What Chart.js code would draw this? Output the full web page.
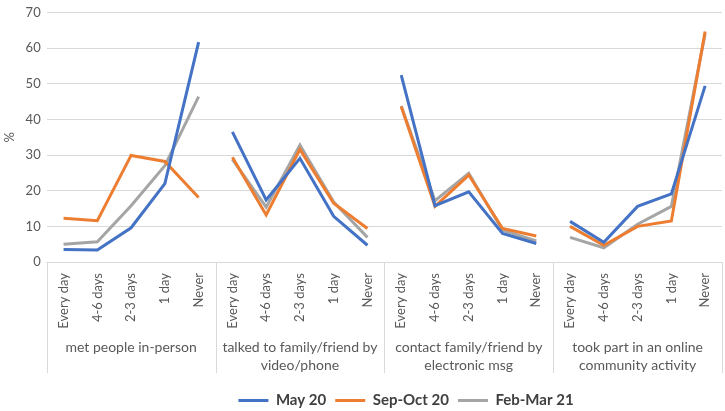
<!DOCTYPE html>
<html>
<head>
<meta charset="utf-8">
<script src="https://cdn.jsdelivr.net/npm/chart.js@4/dist/chart.umd.min.js"></script>
<style>
  html, body { margin: 0; padding: 0; background: #fff; }
  #wrap { width: 725px; height: 411px; }
</style>
</head>
<body>
<div id="wrap"><canvas id="chart"></canvas></div>
<script>
// Data
const frequencies = ['Every day', '4-6 days', '2-3 days', '1 day', 'Never'];
const groups = [
  ['met people in-person'],
  ['talked to family/friend by', 'video/phone'],
  ['contact family/friend by', 'electronic msg'],
  ['took part in an online', 'community activity']
];
const yTicks = [0, 10, 20, 30, 40, 50, 60, 70];

const may20 = [3.5, 3.4, 9.6, 22.0, 61.7, 36.5, 17.4, 29.1, 12.8, 4.7, 52.4, 15.8, 19.7, 8.0, 5.2, 11.4, 5.5, 15.6, 19.1, 49.4];
const sepOct20 = [12.3, 11.6, 29.9, 28.2, 18.1, 29.4, 13.2, 31.6, 16.5, 9.4, 43.6, 15.6, 24.4, 9.4, 7.3, 10.0, 4.7, 10.0, 11.5, 64.7];
const febMar21 = [5.0, 5.7, 15.8, 27.0, 46.4, 28.8, 15.4, 32.8, 16.8, 6.9, 43.8, 17.2, 24.9, 8.9, 5.9, 6.9, 4.0, 10.6, 15.6, 64.0];

const labels = [];
groups.forEach(() => frequencies.forEach(f => labels.push(f)));

const textColor = '#595959';
const gridColor = '#d9d9d9';
const FONT = 'Lato, "Open Sans", sans-serif';

// one line per group: hide the segment joining two groups
function makeSeries(label, data, color) {
  return {
    label,
    data,
    borderColor: color,
    backgroundColor: color,
    borderWidth: 3,
    pointRadius: 0,
    tension: 0,
    segment: {
      borderColor: ctx => (ctx.p0DataIndex % 5 === 4 ? 'transparent' : color)
    }
  };
}

// group labels + separators under the x axis
const groupAxis = {
  id: 'groupAxis',
  afterLayout(chart) {
    // legend sits a bit right of centre in the original
    chart.legend.left += 45;
    chart.legend.right += 45;
  },
  afterDraw(chart) {
    const ctx = chart.ctx;
    const x = chart.scales.x;
    const bottom = chart.chartArea.bottom;
    const step = (x.right - x.left) / labels.length;
    ctx.save();
    ctx.strokeStyle = gridColor;
    ctx.lineWidth = 1;
    for (let g = 0; g <= groups.length; g++) {
      const px = Math.round(x.left + g * 5 * step) + 0.5;
      ctx.beginPath();
      ctx.moveTo(px, bottom);
      ctx.lineTo(px, bottom + 111);
      ctx.stroke();
    }
    ctx.fillStyle = textColor;
    ctx.font = '14px ' + FONT;
    ctx.textAlign = 'center';
    ctx.textBaseline = 'middle';
    groups.forEach((lines, g) => {
      const cx = x.left + (g * 5 + 2.5) * step;
      lines.forEach((t, i) => ctx.fillText(t, cx, bottom + 85 + i * 18));
    });
    ctx.restore();
  }
};

new Chart(document.getElementById('chart'), {
  type: 'line',
  data: {
    labels,
    datasets: [
      makeSeries('May 20', may20, '#4472C4'),
      makeSeries('Sep-Oct 20', sepOct20, '#ED7D31'),
      makeSeries('Feb-Mar 21', febMar21, '#A5A5A5')
    ]
  },
  options: {
    responsive: true,
    maintainAspectRatio: false,
    animation: false,
    layout: { padding: { top: -9, right: 3, left: 0, bottom: -7 } },
    scales: {
      x: {
        offset: true,
        grid: { display: false },
        border: { color: gridColor },
        ticks: {
          autoSkip: false,
          maxRotation: 90,
          minRotation: 90,
          color: textColor,
          padding: 3,
          font: { family: FONT, size: 13 }
        },
        afterFit: s => { s.height = 122; }
      },
      y: {
        min: 0,
        max: 70,
        afterBuildTicks: s => { s.ticks = yTicks.map(v => ({ value: v })); },
        grid: { color: gridColor, drawTicks: false },
        border: { display: false },
        ticks: { color: textColor, padding: 6, font: { family: FONT, size: 13, lineHeight: 1 } },
        title: { display: true, text: '%', color: textColor, font: { family: FONT, size: 13 }, padding: 2 }
      }
    },
    plugins: {
      legend: {
        position: 'bottom',
        labels: {
          boxWidth: 30,
          boxHeight: 3,
          padding: 9,
          color: '#404040',
          font: { family: FONT, size: 15, weight: 'bold' },
          generateLabels: chart => Chart.defaults.plugins.legend.labels.generateLabels(chart)
            .map(l => Object.assign(l, { lineWidth: 0 }))
        }
      },
      tooltip: { enabled: false }
    }
  },
  plugins: [groupAxis]
});
</script>
</body>
</html>
